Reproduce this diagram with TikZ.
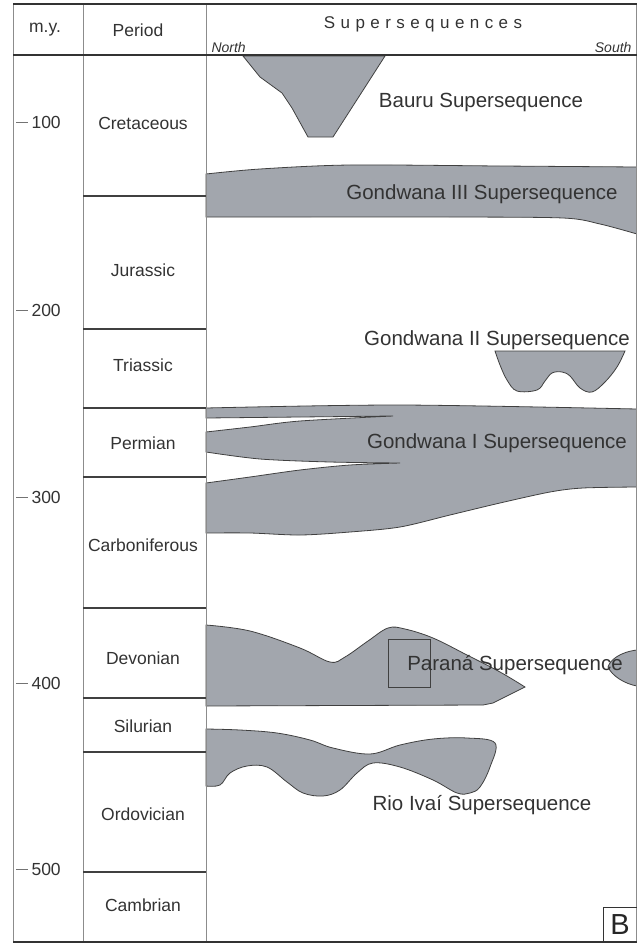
\documentclass[tikz,border=0pt]{standalone}
\usepackage{fontspec}
\setmainfont{Liberation Sans}
\newfontfamily\spacedfont[LetterSpace=32]{Liberation Sans}
\definecolor{seqgray}{RGB}{162,166,173}
\begin{document}
\begin{tikzpicture}[x=1pt,y=-1pt,
  unit/.style={fill=seqgray,draw=black!75,line width=0.8pt},
  period/.style={font=\fontsize{17.5}{21}\selectfont,text=black!80},
  seqlabel/.style={font=\fontsize{20.5}{24}\selectfont,text=black!80},
  agetick/.style={font=\fontsize{17.5}{21}\selectfont,text=black!80,anchor=west},
  bound/.style={draw=black!75,line width=1.2pt}]
  \useasboundingbox (0,0) rectangle (637,945);
  % supersequence bodies
  \filldraw[unit] (243,56) -- (260,77) -- (282,93) -- (292,108) -- (308,137)
    -- (333,137) -- (360,95) -- (385,56) -- cycle;
  \filldraw[unit] plot[smooth] coordinates {(206,174) (260,169) (350,165) (500,166) (637,167)}
    -- (637,234)
    -- plot[smooth] coordinates {(637,234) (600,224) (563,218) (450,217) (300,217) (206,217)}
    -- cycle;
  \filldraw[unit] (495,351) -- (625,351)
    -- plot[smooth,tension=0.6] coordinates {(625,351) (617,367) (605,382) (592,392)
      (580,388) (570,376) (562,372) (552,373) (545,381) (537,390) (517,391) (507,380)
      (500,365) (495,351)} -- cycle;
  \filldraw[unit] plot[smooth] coordinates {(206,408) (400,405) (637,409)}
    -- (637,487)
    -- plot[smooth] coordinates {(637,487) (583,488) (550,492) (500,503) (450,515)
      (400,527) (350,532) (300,535) (250,533) (206,533)}
    -- (206,483)
    -- plot[smooth] coordinates {(206,483) (250,477) (300,470) (350,465) (400,463)}
    -- plot[smooth] coordinates {(400,463) (330,462) (260,459) (206,452)}
    -- (206,432)
    -- plot[smooth] coordinates {(206,432) (250,427) (300,421) (393,416)}
    -- plot[smooth] coordinates {(393,416) (300,417) (206,418)}
    -- cycle;
  \filldraw[unit] plot[smooth,tension=0.6] coordinates {(206,625) (250,631) (300,648)
      (330,662) (345,657) (368,641) (388,628) (405,629) (433,638) (467,655) (500,672)
      (525,687)}
    -- (493,703) -- (483,705) -- (206,706) -- cycle;
  \draw[black!75,line width=0.8pt] (388,639) rectangle (430,687);
  \filldraw[unit] (637,650) .. controls (620,652) and (610,660) .. (608,667)
    .. controls (612,676) and (625,684) .. (637,686) -- cycle;
  \filldraw[unit] plot[smooth,tension=0.6] coordinates {(206,729) (240,730) (277,733)
      (310,740) (333,748) (370,754) (400,745) (433,739) (467,738) (495,743) (490,767)
      (480,787) (470,793) (457,793) (433,780) (400,767) (373,763) (357,773) (340,790)
      (323,796) (303,793) (287,782) (267,767) (247,766) (230,773) (220,785) (206,786)}
    -- cycle;
  % frame
  \draw[black!45,line width=0.8pt] (13,4) -- (13,942);
  \draw[black!45,line width=0.8pt] (83,4) -- (83,942);
  \draw[black!45,line width=0.8pt] (206,4) -- (206,942);
  \draw[black!45,line width=0.8pt] (636,4) -- (636,942);
  \draw[black!80,line width=1.5pt] (13,4) -- (637,4);
  \draw[black!80,line width=1.6pt] (13,55) -- (637,55);
  \draw[black!80,line width=1.5pt] (13,942) -- (637,942);
  \foreach \y in {196,329,408,477,608,698,752,872}
    \draw[bound] (83,\y) -- (206,\y);
  % age scale
  \foreach \y/\age in {122/100,310/200,497/300,683/400,869/500}{
    \draw[black!55,line width=0.8pt] (16,\y) -- (28,\y);
    \node[agetick] (age\age) at (28,\y) {\age};
  }
  % header
  \node[period] (hmy) at (45,30) {m.y.};
  \node[period] (hperiod) at (138,30) {Period};
  \node[font=\spacedfont\fontsize{17}{20}\selectfont,text=black!80] (hseq) at (423,24) {Supersequences};
  \node[font=\fontsize{14}{16}\selectfont\itshape,text=black!80,anchor=west] (hnorth) at (208,47) {North};
  \node[font=\fontsize{14}{16}\selectfont\itshape,text=black!80,anchor=east] (hsouth) at (635,47) {South};
  % periods
  \node[period] (cretaceous) at (143,123) {Cretaceous};
  \node[period] (jurassic) at (143,270) {Jurassic};
  \node[period] (triassic) at (143,365) {Triassic};
  \node[period] (permian) at (143,443) {Permian};
  \node[period] (carboniferous) at (143,545) {Carboniferous};
  \node[period] (devonian) at (143,658) {Devonian};
  \node[period] (silurian) at (143,726) {Silurian};
  \node[period] (ordovician) at (143,814) {Ordovician};
  \node[period] (cambrian) at (143,905) {Cambrian};
  % supersequence labels
  \node[seqlabel] (bauru) at (481,102) {Bauru Supersequence};
  \node[seqlabel] (gondIII) at (482,194) {Gondwana III Supersequence};
  \node[seqlabel] (gondII) at (497,340) {Gondwana II Supersequence};
  \node[seqlabel] (gondI) at (497,443) {Gondwana I Supersequence};
  \node[seqlabel] (parana) at (515,665) {Paraná Supersequence};
  \node[seqlabel] (rioivai) at (482,805) {Rio Ivaí Supersequence};
  % panel letter
  \draw[black!80,line width=0.8pt] (603,907) rectangle (637,942);
  \node[font=\fontsize{29}{32}\selectfont,text=black!85] (panel) at (620,925) {B};
\end{tikzpicture}
\end{document}
